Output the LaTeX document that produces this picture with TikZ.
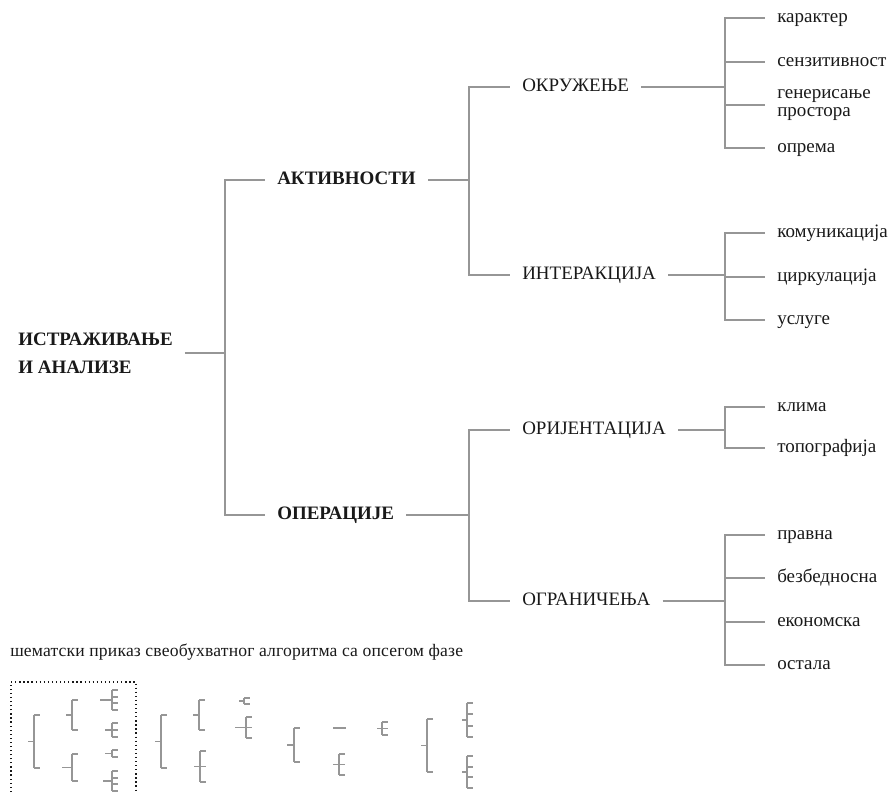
\documentclass[tikz,border=0pt]{standalone}
\usepackage{fontspec}
\setmainfont{Liberation Serif}

% small schematic twig: x, top, bottom, number of ticks, stem start
\newcommand{\twig}[5]{%
  \draw[mini] (#5,{(#2+#3)/2}) -- (#1,{(#2+#3)/2});
  \draw[mini] (#1,#2) -- (#1,#3);
  \foreach \t in {1,...,#4}
    \draw[mini] (#1,{#2+(\t-1)*(#3-#2)/(#4-1)}) -- ++(6,0);
}

\begin{document}
\begin{tikzpicture}[x=0.025cm, y=-0.025cm,
  branch/.style={draw=linegray, line width=1.3pt},
  mini/.style={draw=linegray, line width=1.4pt},
  item/.style={anchor=west, inner xsep=0.3cm, inner ysep=0pt, text=inkcolor,
    text height=1.6ex, text depth=0.1ex, font=\fontsize{13.5}{19}\selectfont},
  head/.style={item, font=\fontsize{13.5}{19}\selectfont\bfseries}]

\definecolor{linegray}{RGB}{150, 150, 150}
\definecolor{inkcolor}{RGB}{25, 25, 25}

\useasboundingbox (0,0) rectangle (896,792);

\coordinate (t1) at (225,0);
\coordinate (t2) at (469,0);
\coordinate (t3) at (725,0);

\node[anchor=west, inner xsep=0.3cm, inner ysep=0pt, align=left, text=inkcolor,
  font=\fontsize{13.5}{20}\selectfont\bfseries] (root) at (6,353) {ИСТРАЖИВАЊЕ\\И АНАЛИЗЕ};

\node[head] (act) at (265,180) {АКТИВНОСТИ};
\node[head] (op) at (265,515) {ОПЕРАЦИЈЕ};

\node[item] (env) at (510,87) {ОКРУЖЕЊЕ};
\node[item] (inter) at (510,275) {ИНТЕРАКЦИЈА};
\node[item] (orient) at (510,430) {ОРИЈЕНТАЦИЈА};
\node[item] (limit) at (510,601) {ОГРАНИЧЕЊА};

\node[item] (kar) at (765,18) {карактер};
\node[item] (sen) at (765,62) {сензитивност};
\node[anchor=west, inner xsep=0.3cm, inner ysep=0pt, align=left, text=inkcolor,
  font=\fontsize{13.5}{12.5}\selectfont] (gen) at (765,105) {генерисање\\простора};
\node[item] (opr) at (765,148) {опрема};

\node[item] (kom) at (765,233) {комуникација};
\node[item] (cir) at (765,277) {циркулација};
\node[item] (usl) at (765,320) {услуге};

\node[item] (kli) at (765,407) {клима};
\node[item] (top) at (765,448) {топографија};

\node[item] (pra) at (765,535) {правна};
\node[item] (bez) at (765,578) {безбедносна};
\node[item] (eko) at (765,622) {економска};
\node[item] (ost) at (765,665) {остала};

\draw[branch] (root.east) -- (root.east -| t1) coordinate (j0);
\draw[branch] (j0) |- (act.west);
\draw[branch] (j0) |- (op.west);

\draw[branch] (act.east) -- (act.east -| t2) coordinate (j1);
\draw[branch] (j1) |- (env.west);
\draw[branch] (j1) |- (inter.west);

\draw[branch] (op.east) -- (op.east -| t2) coordinate (j2);
\draw[branch] (j2) |- (orient.west);
\draw[branch] (j2) |- (limit.west);

\draw[branch] (env.east) -- (env.east -| t3) coordinate (j3);
\foreach \n in {kar,sen,gen,opr} \draw[branch] (j3) |- (\n.west);

\draw[branch] (inter.east) -- (inter.east -| t3) coordinate (j4);
\foreach \n in {kom,cir,usl} \draw[branch] (j4) |- (\n.west);

\draw[branch] (orient.east) -- (orient.east -| t3) coordinate (j5);
\foreach \n in {kli,top} \draw[branch] (j5) |- (\n.west);

\draw[branch] (limit.east) -- (limit.east -| t3) coordinate (j6);
\foreach \n in {pra,bez,eko,ost} \draw[branch] (j6) |- (\n.west);

\node[anchor=base west, inner sep=0pt, text=inkcolor,
  font=\fontsize{12.5}{14}\selectfont\addfontfeature{LetterSpace=1}] (caption) at (10,656)
  {шематски приказ свеобухватног алгоритма са опсегом фазе};

% phase schematics
\draw[dotted, line width=0.9pt, inkcolor] (11,792) -- (11,682) -- (136,682) -- (136,792);

\twig{34}{715}{768}{2}{28}
\twig{72}{700}{730}{2}{66}
\twig{72}{754}{781}{2}{62}
\twig{112}{690}{710}{4}{100}
\twig{112}{723}{737}{3}{105}
\twig{112}{750}{757}{2}{105}
\twig{112}{771}{791}{4}{103}

\twig{161}{715}{768}{2}{155}
\twig{199}{700}{730}{2}{193}
\twig{200}{751}{782}{3}{194}
\twig{244}{698}{704}{2}{239}
\twig{246}{717}{738}{3}{235}

\twig{294}{728}{762}{2}{287}
\draw[mini] (333,728) -- (346,728);
\twig{339}{754}{775}{3}{333}
\twig{382}{722}{735}{3}{377}

\twig{427}{719}{772}{2}{421}
\twig{467}{703}{737}{4}{462}
\twig{467}{756}{788}{4}{462}

\end{tikzpicture}
\end{document}
